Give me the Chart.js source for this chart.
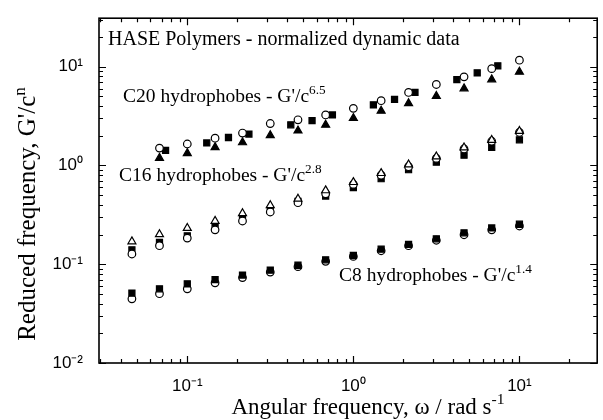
<!DOCTYPE html>
<html><head><meta charset="utf-8">
<script src="https://cdn.jsdelivr.net/npm/chart.js@4/dist/chart.umd.min.js"></script>
<style>html,body{margin:0;padding:0;background:#fff;}canvas{display:block;}</style>
</head><body>
<canvas id="c" width="603" height="420"></canvas>
<script>
// ---- data ----
const freqMain = [0.068,0.1,0.147,0.215,0.316,0.464,0.681,1,1.47,2.15,3.16,4.64,6.81,10];
const c20OpenCircle   = [1.50,1.65,1.89,2.13,2.66,2.90,3.25,3.79,4.53,5.49,6.61,7.90,9.56,11.65];
const c20FilledTri    = [1.19,1.33,1.53,1.71,2.02,2.25,2.58,3.01,3.57,4.26,5.05,6.02,7.42,8.87];
const freqC20Square   = [0.074,0.131,0.177,0.235,0.42,0.564,0.748,1.32,1.77,2.35,4.2,5.57,7.41];
const c20FilledSquare = [1.42,1.69,1.92,2.08,2.58,2.85,3.25,4.11,4.67,5.49,7.42,8.67,10.2];

const freqLow = [0.0464,0.068,0.1,0.147,0.215,0.316,0.464,0.681,1,1.47,2.15,3.16,4.64,6.81,10];
const c16OpenTri      = [0.170,0.201,0.232,0.274,0.328,0.395,0.460,0.559,0.677,0.835,1.02,1.23,1.52,1.81,2.23];
const c16OpenCircle   = [0.127,0.154,0.184,0.223,0.274,0.338,0.420,0.517,0.643,0.797,0.972,1.18,1.47,1.76,2.16];
const c16FilledSquare = [0.140,0.166,0.194,0.239,0.291,0.354,0.432,0.490,0.597,0.735,0.906,1.08,1.27,1.53,1.82];

const c8FilledSquare  = [0.0510,0.0564,0.0633,0.0700,0.0777,0.0872,0.0977,0.111,0.123,0.142,0.159,0.181,0.208,0.233,0.254];
const c8OpenCircle    = [0.0447,0.0503,0.0564,0.0649,0.0733,0.0833,0.0945,0.107,0.120,0.137,0.154,0.175,0.199,0.223,0.244];

const xTickValues = [0.1, 1, 10];
const xTickLabels = ['10\u207B\u00B9', '10\u2070', '10\u00B9'];
const yTickValues = [0.01, 0.1, 1, 10];
const yTickLabels = ['10\u207B\u00B2', '10\u207B\u00B9', '10\u2070', '10\u00B9'];

const X_MIN = 0.0294, X_MAX = 29.4, Y_MIN = 0.01, Y_MAX = 31;

const SERIF = '"Liberation Serif", "Times New Roman", serif';
const SANS = '"Liberation Sans", Arial, sans-serif';

function pts(xs, ys){ return xs.map((x,i)=>({x, y: ys[i]})); }
function ds(label, xs, ys, style, r, filled){
  return { label, data: pts(xs, ys), pointStyle: style, pointRadius: r, pointHoverRadius: r,
    backgroundColor: filled ? '#000' : '#fff', borderColor: '#000', borderWidth: 1.2, showLine: false };
}

function richWidth(ctx, parts, size){
  let w = 0;
  for (const [t, sup] of parts){ ctx.font = `${sup ? size*0.68 : size}px ${SERIF}`; w += ctx.measureText(t).width; }
  return w;
}
function drawRich(ctx, x, y, parts, size){
  let cx = x;
  for (const [t, sup] of parts){
    ctx.font = `${sup ? size*0.68 : size}px ${SERIF}`;
    ctx.fillText(t, cx, sup ? y - size*0.42 : y);
    cx += ctx.measureText(t).width;
  }
}

function logTicks(min, max){
  const out = [];
  for (let d = Math.floor(Math.log10(min)); d <= Math.ceil(Math.log10(max)); d++){
    for (let m = 1; m <= 9; m++){
      const v = m * Math.pow(10, d);
      if (v >= min*0.999 && v <= max*1.001) out.push({v, major: m === 1});
    }
  }
  return out;
}

const framePlugin = {
  id: 'frame',
  beforeDatasetsDraw(chart){
    const {ctx, chartArea: a, scales: {x, y}} = chart;
    ctx.save();
    ctx.strokeStyle = '#000';
    ctx.lineWidth = 1.6;
    ctx.strokeRect(a.left, a.top, a.right - a.left, a.bottom - a.top);
    ctx.lineWidth = 1.2;
    ctx.beginPath();
    for (const t of logTicks(x.min, x.max)){
      const px = Math.round(x.getPixelForValue(t.v)) + 0.5, L = t.major ? 7 : 4;
      ctx.moveTo(px, a.bottom); ctx.lineTo(px, a.bottom - L);
      ctx.moveTo(px, a.top); ctx.lineTo(px, a.top + L);
    }
    for (const t of logTicks(y.min, y.max)){
      const py = Math.round(y.getPixelForValue(t.v)) + 0.5, L = t.major ? 7 : 4;
      ctx.moveTo(a.left, py); ctx.lineTo(a.left + L, py);
      ctx.moveTo(a.right, py); ctx.lineTo(a.right - L, py);
    }
    ctx.stroke();
    ctx.restore();
  },
  afterDraw(chart){
    const {ctx} = chart;
    ctx.save();
    ctx.fillStyle = '#000';
    ctx.textBaseline = 'alphabetic';
    ctx.textAlign = 'left';
    drawRich(ctx, 108, 45, [['HASE Polymers - normalized dynamic data', false]], 20);
    drawRich(ctx, 123, 102, [["C20 hydrophobes - G'/c", false], ['6.5', true]], 19.5);
    drawRich(ctx, 119, 181, [["C16 hydrophobes - G'/c", false], ['2.8', true]], 19.5);
    drawRich(ctx, 339, 281, [["C8 hydrophobes - G'/c", false], ['1.4', true]], 19.5);
    // x axis title
    const xParts = [['Angular frequency, \u03C9 / rad s', false], ['-1', true]];
    const xw = richWidth(ctx, xParts, 23);
    drawRich(ctx, 368 - xw/2, 414, xParts, 23);
    // y axis title
    const yParts = [["Reduced frequency, G'/c", false], ['n', true]];
    const yw = richWidth(ctx, yParts, 25);
    ctx.translate(35, 214);
    ctx.rotate(-Math.PI/2);
    drawRich(ctx, -yw/2, 0, yParts, 25);
    ctx.restore();
  }
};

new Chart(document.getElementById('c'), {
  type: 'scatter',
  data: { datasets: [
    ds('C20 open circle', freqMain, c20OpenCircle, 'circle', 3.8, false),
    ds('C20 filled square', freqC20Square, c20FilledSquare, 'rect', 4.3, true),
    ds('C20 filled triangle', freqMain, c20FilledTri, 'triangle', 4.6, true),
    ds('C16 open triangle', freqLow, c16OpenTri, 'triangle', 4.6, false),
    ds('C16 open circle', freqLow, c16OpenCircle, 'circle', 3.8, false),
    ds('C16 filled square', freqLow, c16FilledSquare, 'rect', 4.3, true),
    ds('C8 filled square', freqLow, c8FilledSquare, 'rect', 4.3, true),
    ds('C8 open circle', freqLow, c8OpenCircle, 'circle', 3.8, false)
  ]},
  options: {
    responsive: false, animation: false, devicePixelRatio: 1,
    layout: { padding: { top: 16, right: -3, left: 0, bottom: 0 } },
    plugins: { legend: { display: false }, tooltip: { enabled: false } },
    scales: {
      x: {
        type: 'logarithmic', min: X_MIN, max: X_MAX,
        grid: { display: false }, border: { display: false },
        afterBuildTicks: s => { s.ticks = xTickValues.map(v => ({ value: v })); },
        afterFit: s => { s.height = 57; },
        ticks: { autoSkip: false, maxRotation: 0, padding: 5, color: '#000',
          font: { family: SANS, size: 17 },
          callback: (v, i) => xTickLabels[i] }
      },
      y: {
        type: 'logarithmic', min: Y_MIN, max: Y_MAX,
        grid: { display: false }, border: { display: false },
        afterBuildTicks: s => { s.ticks = yTickValues.map(v => ({ value: v })); },
        afterFit: s => { s.width = 99; },
        ticks: { autoSkip: false, padding: 8, color: '#000',
          font: { family: SANS, size: 17 },
          callback: (v, i) => yTickLabels[i] }
      }
    }
  },
  plugins: [framePlugin]
});
</script>
</body></html>
